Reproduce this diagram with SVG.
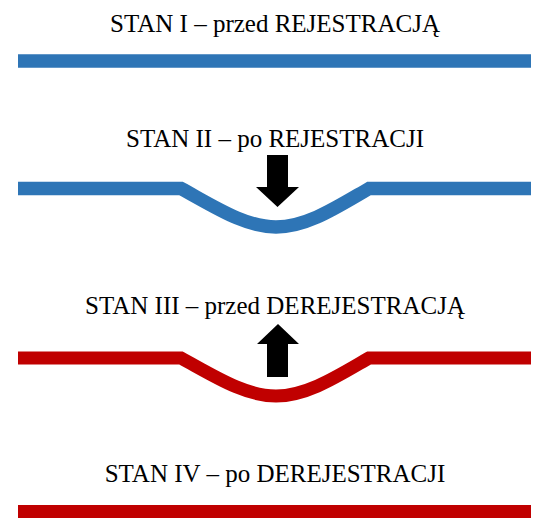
<svg xmlns="http://www.w3.org/2000/svg" width="550" height="529" viewBox="0 0 550 529">
<style>
.lbl{font-family:"Liberation Serif","Times New Roman",serif;font-size:25px;fill:#000;text-anchor:middle}
.blue{fill:none;stroke:#2E75B6;stroke-width:13.5;stroke-linejoin:miter}
.red{fill:none;stroke:#C00000;stroke-width:13;stroke-linejoin:miter}
.arrow{fill:#000}
</style>
<rect width="550" height="529" fill="#fff"/>
<g id="state1">
<text class="lbl" x="275" y="32">STAN I – przed REJESTRACJĄ</text>
<path class="blue" d="M18,61 H531"/>
</g>
<g id="state2">
<text class="lbl" x="275" y="147">STAN II – po REJESTRACJI</text>
<path class="blue" d="M18,188.5 H181 C215,207 245,227 276,227 C307,227 337,207 369,188.5 H531"/>
</g>
<g id="state3">
<text class="lbl" x="275" y="314">STAN III – przed DEREJESTRACJĄ</text>
<path class="red" d="M18,358 H181 C215,376.5 245,396 276,396 C307,396 337,376.5 369,358 H531"/>
</g>
<g id="state4">
<text class="lbl" x="275" y="482">STAN IV – po DEREJESTRACJI</text>
<path class="red" d="M18,511.5 H531"/>
</g>
<g id="connectors">
<polygon class="arrow" points="267,155 288,155 288,187 299,187 277.5,207 256,187 267,187"/>
<polygon class="arrow" points="278,324 299,344 288,344 288,377 267,377 267,344 257,344"/>
</g>
</svg>
